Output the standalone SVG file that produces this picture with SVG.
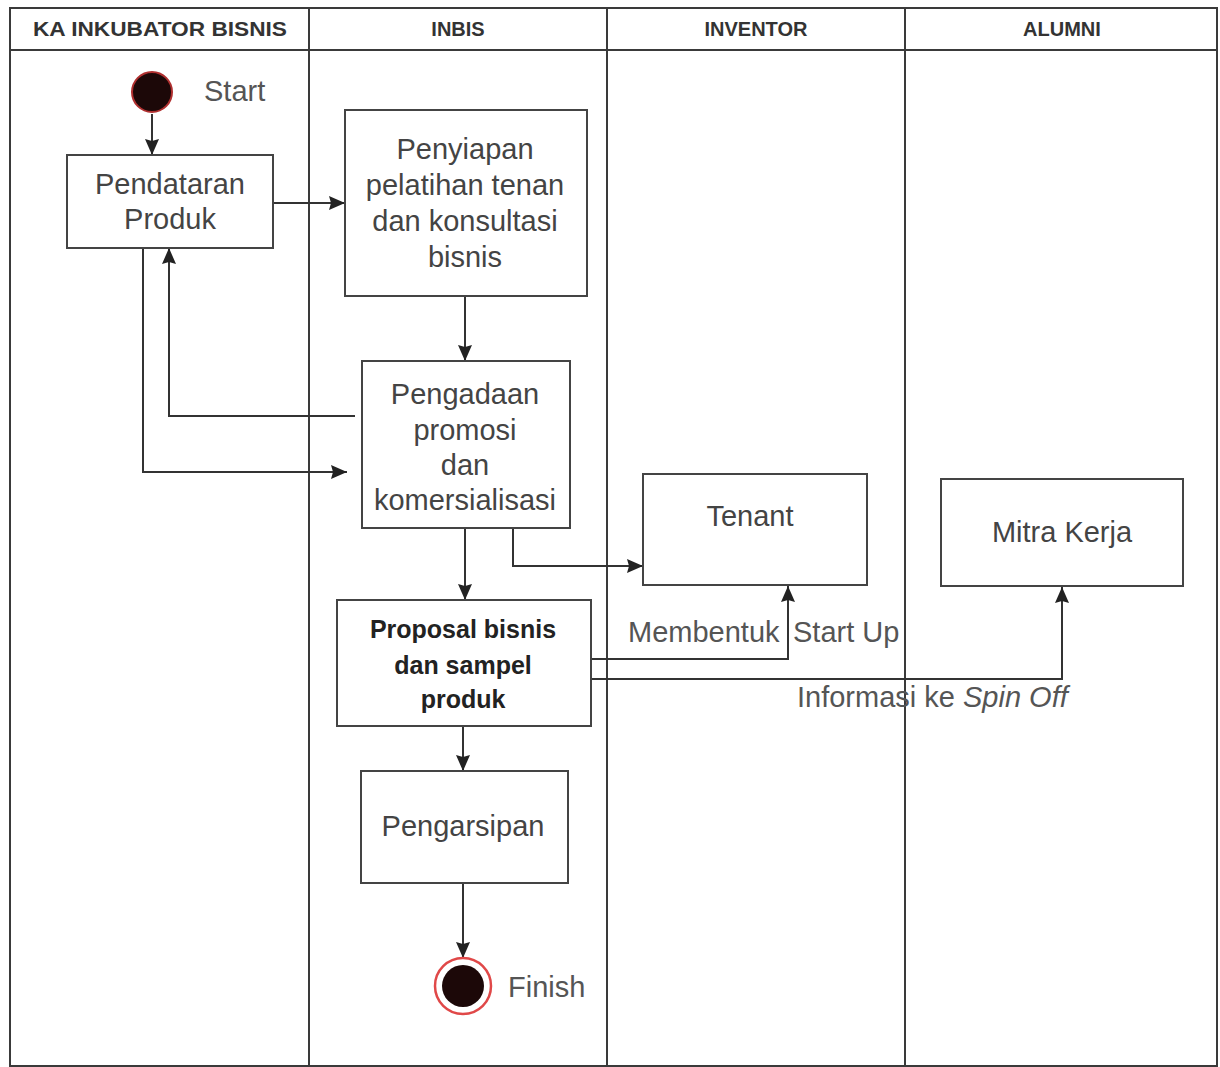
<svg xmlns="http://www.w3.org/2000/svg" width="1220" height="1067" viewBox="0 0 1220 1067">
<style>
.lane{fill:none;stroke:#3a3a3a;stroke-width:2}
.hdr{font-family:"Liberation Sans",Arial,sans-serif;font-weight:bold;font-size:20px;fill:#333;text-anchor:middle}
.box{fill:#fff;stroke:#444;stroke-width:2}
.t{font-family:"Liberation Sans",Arial,sans-serif;font-size:29px;fill:#444;text-anchor:middle}
.tb{font-family:"Liberation Sans",Arial,sans-serif;font-size:25px;font-weight:bold;fill:#222;text-anchor:middle}
.lbl{font-family:"Liberation Sans",Arial,sans-serif;font-size:29px;fill:#555}
.c{fill:none;stroke:#333;stroke-width:2}
</style>
<defs>
<marker id="a" viewBox="0 0 16 14" refX="16" refY="7" markerWidth="16" markerHeight="14" markerUnits="userSpaceOnUse" orient="auto">
<path d="M0,0 L16,7 L0,14 L2,7 z" fill="#222"/>
</marker>
</defs>
<rect width="1220" height="1067" fill="#fff"/>
<g id="swimlanes">
<rect class="lane" x="10" y="8" width="1207" height="1058"/>
<line class="lane" x1="10" y1="50" x2="1217" y2="50"/>
<line class="lane" x1="309" y1="8" x2="309" y2="1066"/>
<line class="lane" x1="607" y1="8" x2="607" y2="1066"/>
<line class="lane" x1="905" y1="8" x2="905" y2="1066"/>
<text class="hdr" x="160" y="36" textLength="254" lengthAdjust="spacingAndGlyphs">KA INKUBATOR  BISNIS</text>
<text class="hdr" x="458" y="36">INBIS</text>
<text class="hdr" x="756" y="36">INVENTOR</text>
<text class="hdr" x="1062" y="36">ALUMNI</text>
</g>
<g id="connectors">
<line class="c" x1="152" y1="114" x2="152" y2="155" marker-end="url(#a)"/>
<line class="c" x1="273" y1="203" x2="345" y2="203" marker-end="url(#a)"/>
<line class="c" x1="465" y1="296" x2="465" y2="361" marker-end="url(#a)"/>
<polyline class="c" points="355,416 169,416 169,248" marker-end="url(#a)"/>
<polyline class="c" points="143,248 143,472 347,472" marker-end="url(#a)"/>
<line class="c" x1="465" y1="528" x2="465" y2="600" marker-end="url(#a)"/>
<polyline class="c" points="513,528 513,566 643,566" marker-end="url(#a)"/>
<polyline class="c" points="591,659 788,659 788,586" marker-end="url(#a)"/>
<polyline class="c" points="591,679 1062,679 1062,587" marker-end="url(#a)"/>
<line class="c" x1="463" y1="726" x2="463" y2="771" marker-end="url(#a)"/>
<line class="c" x1="463" y1="883" x2="463" y2="958" marker-end="url(#a)"/>
<text class="lbl" x="628" y="642">Membentuk</text>
<text class="lbl" x="793" y="642">Start Up</text>
<text class="lbl" x="797" y="707">Informasi ke <tspan font-style="italic">Spin Off</tspan></text>
</g>
<g id="start">
<circle cx="152" cy="92" r="20" fill="#1c0808" stroke="#b03030" stroke-width="2"/>
<text class="lbl" x="204" y="101" fill="#444">Start</text>
</g>
<g id="pendataran">
<rect class="box" x="67" y="155" width="206" height="93"/>
<text class="t" x="170" y="194">Pendataran</text>
<text class="t" x="170" y="229">Produk</text>
</g>
<g id="penyiapan">
<rect class="box" x="345" y="110" width="242" height="186"/>
<text class="t" x="465" y="159">Penyiapan</text>
<text class="t" x="465" y="195">pelatihan tenan</text>
<text class="t" x="465" y="231">dan konsultasi</text>
<text class="t" x="465" y="267">bisnis</text>
</g>
<g id="pengadaan">
<rect class="box" x="362" y="361" width="208" height="167"/>
<text class="t" x="465" y="404">Pengadaan</text>
<text class="t" x="465" y="440">promosi</text>
<text class="t" x="465" y="475">dan</text>
<text class="t" x="465" y="510">komersialisasi</text>
</g>
<g id="tenant">
<rect class="box" x="643" y="474" width="224" height="111"/>
<text class="t" x="750" y="526" fill="#222">Tenant</text>
</g>
<g id="mitra">
<rect class="box" x="941" y="479" width="242" height="107"/>
<text class="t" x="1062" y="542">Mitra Kerja</text>
</g>
<g id="proposal">
<rect class="box" x="337" y="600" width="254" height="126"/>
<text class="tb" x="463" y="638">Proposal bisnis</text>
<text class="tb" x="463" y="674">dan sampel</text>
<text class="tb" x="463" y="708">produk</text>
</g>
<g id="pengarsipan">
<rect class="box" x="361" y="771" width="207" height="112"/>
<text class="t" x="463" y="836">Pengarsipan</text>
</g>
<g id="finish">
<circle cx="463" cy="986" r="28" fill="#fff" stroke="#e04848" stroke-width="2.5"/>
<circle cx="463" cy="986" r="21" fill="#1c0808"/>
<text class="lbl" x="508" y="997" fill="#444">Finish</text>
</g>
</svg>
